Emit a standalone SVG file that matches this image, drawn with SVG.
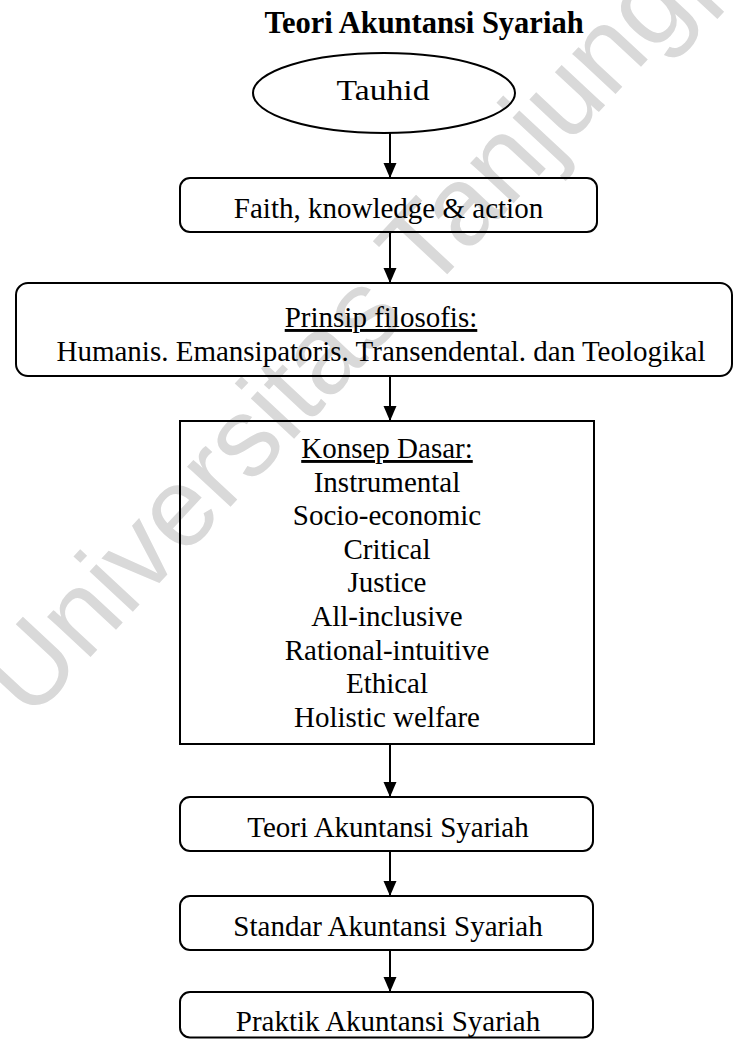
<svg xmlns="http://www.w3.org/2000/svg" width="734" height="1039" viewBox="0 0 734 1039">
<style>
.t{font-family:"Liberation Serif","Times New Roman",serif;font-size:29px;fill:#000;text-anchor:middle}
.b{font-weight:bold;font-size:30.5px}
.box{fill:none;stroke:#000;stroke-width:2}
.c{stroke:#000;stroke-width:2;fill:none}
.wm{font-family:"Liberation Sans",Arial,sans-serif;font-size:112px;fill:#d9d9d9}
</style>
<defs>
<marker id="ah" markerUnits="userSpaceOnUse" markerWidth="16" markerHeight="14" refX="15" refY="6.5" orient="auto">
<path d="M0,0 L15,6.5 L0,13 Z" fill="#000"/>
</marker>
</defs>
<rect width="734" height="1039" fill="#fff"/>
<text class="wm" transform="translate(30,722) rotate(-47)">Universitas Tanjungpura</text>
<text class="t b" x="424" y="33">Teori Akuntansi Syariah</text>
<g id="tauhid">
<ellipse class="box" cx="384" cy="93" rx="131" ry="40"/>
<text class="t" x="383" y="100" textLength="93" lengthAdjust="spacingAndGlyphs">Tauhid</text>
</g>
<g id="faith">
<rect class="box" x="180" y="178" width="417" height="54" rx="10"/>
<text class="t" x="388.5" y="218">Faith, knowledge &amp; action</text>
</g>
<g id="prinsip">
<rect class="box" x="16" y="283" width="716" height="93" rx="12"/>
<text class="t" x="381" y="327" text-decoration="underline">Prinsip filosofis:</text>
<text class="t" x="381" y="361">Humanis. Emansipatoris. Transendental. dan Teologikal</text>
</g>
<g id="konsep">
<rect x="180" y="421" width="414" height="323" fill="none" stroke="#000" stroke-width="2"/>
<text class="t" x="387" y="458" text-decoration="underline">Konsep Dasar:</text>
<text class="t" x="387" y="491.6">Instrumental</text>
<text class="t" x="387" y="525.2">Socio-economic</text>
<text class="t" x="387" y="558.8">Critical</text>
<text class="t" x="387" y="592.4">Justice</text>
<text class="t" x="387" y="626">All-inclusive</text>
<text class="t" x="387" y="659.6">Rational-intuitive</text>
<text class="t" x="387" y="693.2">Ethical</text>
<text class="t" x="387" y="726.8">Holistic welfare</text>
</g>
<g id="teori">
<rect class="box" x="180" y="797" width="413" height="54" rx="10"/>
<text class="t" x="388" y="837">Teori Akuntansi Syariah</text>
</g>
<g id="standar">
<rect class="box" x="180" y="896" width="413" height="54" rx="10"/>
<text class="t" x="388" y="936">Standar Akuntansi Syariah</text>
</g>
<g id="praktik">
<rect class="box" x="180" y="992" width="413" height="45.5" rx="10"/>
<text class="t" x="388" y="1031">Praktik Akuntansi Syariah</text>
</g>
<g id="connectors">
<line class="c" x1="390" y1="133" x2="390" y2="178" marker-end="url(#ah)"/>
<line class="c" x1="390" y1="232" x2="390" y2="283" marker-end="url(#ah)"/>
<line class="c" x1="390" y1="376" x2="390" y2="421" marker-end="url(#ah)"/>
<line class="c" x1="390" y1="744" x2="390" y2="797" marker-end="url(#ah)"/>
<line class="c" x1="390" y1="851" x2="390" y2="896" marker-end="url(#ah)"/>
<line class="c" x1="390" y1="950" x2="390" y2="992" marker-end="url(#ah)"/>
</g>
</svg>
